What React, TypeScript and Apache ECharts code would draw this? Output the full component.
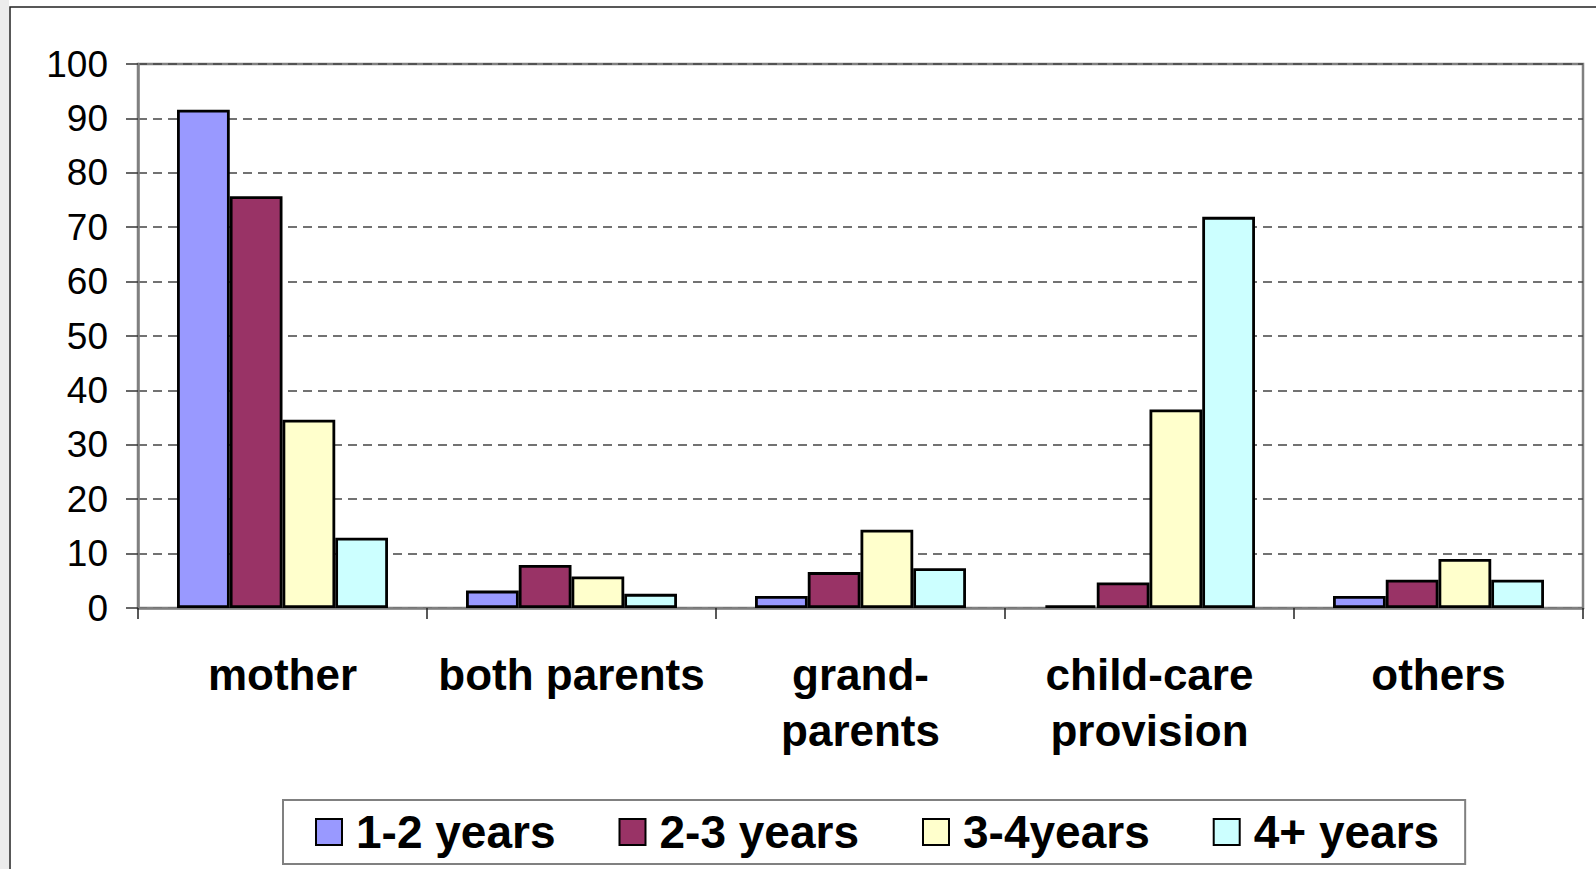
import React, { useEffect, useRef } from "react";
import * as echarts from "echarts";

const categories = ["mother", "both parents", "grand-\nparents", "child-care\nprovision", "others"];
const seriesNames = ["1-2 years", "2-3 years", "3-4years", "4+ years"];
const years12 = [91.6, 3.2, 2.2, 0.5, 2.2];
const years23 = [75.7, 7.9, 6.6, 4.7, 5.2];
const years34 = [34.6, 5.8, 14.4, 36.5, 9.0];
const years4p = [12.9, 2.6, 7.3, 71.9, 5.2];
const colors = ["#9999FF", "#993366", "#FFFFCC", "#CCFFFF"];
const yTicks = { min: 0, max: 100, interval: 10 };

export default function App() {
  const ref = useRef<HTMLDivElement>(null);
  useEffect(() => {
    if (!ref.current) return;
    const chart = echarts.init(ref.current, null, { renderer: "svg" });
    const data = [years12, years23, years34, years4p];
    chart.setOption({
      animation: false,
      backgroundColor: "#ffffff",
      grid: {
        left: 138,
        top: 64,
        right: 13,
        bottom: 261,
        show: true,
        borderColor: "#808080",
        borderWidth: 2.5,
        backgroundColor: "transparent",
      },
      graphic: [
        {
          type: "rect",
          shape: { x: 0, y: 0, width: 9, height: 869 },
          style: { fill: "#ececec" },
          silent: true,
        },
        {
          type: "rect",
          shape: { x: 10, y: 7, width: 1620, height: 900 },
          style: { fill: "none", stroke: "#222", lineWidth: 1.5 },
          silent: true,
        },
      ],
      legend: {
        left: 283,
        top: 800,
        data: seriesNames,
        icon: "rect",
        itemWidth: 26,
        itemHeight: 26,
        itemGap: 63,
        borderColor: "#808080",
        borderWidth: 2,
        padding: [9, 26, 9, 32],
        backgroundColor: "#fff",
        textStyle: {
          fontFamily: "Liberation Sans, Arial, sans-serif",
          fontWeight: "bold",
          fontSize: 46,
          color: "#000",
          padding: [0, 0, 0, 9],
        },
      },
      xAxis: {
        type: "category",
        data: categories,
        axisLine: { show: true, lineStyle: { color: "#808080", width: 2.5 } },
        axisTick: { show: true, length: 11, lineStyle: { color: "#222", width: 1.5 } },
        axisLabel: {
          interval: 0,
          margin: 38,
          fontFamily: "Liberation Sans, Arial, sans-serif",
          fontWeight: "bold",
          fontSize: 44,
          lineHeight: 56,
          color: "#000",
        },
      },
      yAxis: {
        type: "value",
        min: yTicks.min,
        max: yTicks.max,
        interval: yTicks.interval,
        axisLine: { show: true, lineStyle: { color: "#808080", width: 2.5 } },
        axisTick: { show: true, length: 12, lineStyle: { color: "#333", width: 1.5 } },
        axisLabel: {
          margin: 30,
          fontFamily: "Liberation Sans, Arial, sans-serif",
          fontSize: 37,
          color: "#000",
        },
        splitLine: {
          show: true,
          lineStyle: { color: "#444", type: [9, 6], width: 1.5 },
        },
      },
      series: seriesNames.map((name, i) => ({
        name,
        type: "bar",
        data: data[i],
        barGap: "0%",
        barCategoryGap: "27%",
        itemStyle: { color: colors[i], borderColor: "#000", borderWidth: 2.8 },
      })),
    });
    return () => chart.dispose();
  }, []);
  return (
    <div
      ref={ref}
      style={{ position: "fixed", left: 0, top: 0, width: 1596, height: 869 }}
    />
  );
}
